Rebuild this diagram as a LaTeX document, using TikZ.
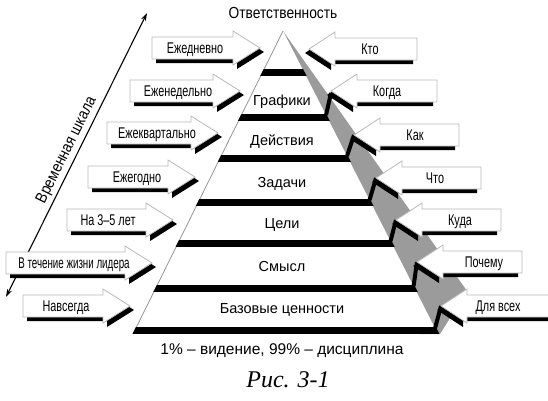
\documentclass[tikz,border=0pt]{standalone}
\usepackage{fontspec}
\setmainfont{Liberation Sans}
\newfontfamily\narrowfont[FakeStretch=0.70]{Liberation Sans}
\newfontfamily\narrowerfont[FakeStretch=0.63]{Liberation Sans}
\newfontfamily\titlefont[FakeStretch=0.86]{Liberation Sans}
\newfontfamily\capfont{Liberation Serif}
\usetikzlibrary{arrows.meta}
\definecolor{facegray}{RGB}{155,155,155}
\definecolor{edgegray}{RGB}{150,150,150}
\tikzset{
  arrowbody/.style={fill=white, draw=gray!55, line width=0.8pt, line join=miter},
  arrowshadow/.style={fill=black},
  lbl/.style={font=\narrowfont\fontsize{15.5}{17}\selectfont, inner sep=0pt, anchor=base},
  lvl/.style={font=\fontsize{14.5}{16}\selectfont, inner sep=0pt, anchor=base},
  stub/.style={line width=4pt, black},
  barfill/.style={fill=black},
}
% arrow pointing right: #1 name, #2 tail x, #3 tip x, #4 centre y, #5 text, #6 text x
\newcommand\ArrR[6]{%
  \coordinate (#1tip) at (#3,#4);
  \fill[arrowshadow, shift={(4,4)}] ({#2},{#4-11}) -- ({#3-27},{#4-11}) -- ({#3-27},{#4-17}) -- ({#3},{#4}) -- ({#3-27},{#4+17}) -- ({#3-27},{#4+11}) -- ({#2},{#4+11}) -- cycle;
  \draw[arrowbody] ({#2},{#4-11}) -- ({#3-27},{#4-11}) -- ({#3-27},{#4-17}) -- ({#3},{#4}) -- ({#3-27},{#4+17}) -- ({#3-27},{#4+11}) -- ({#2},{#4+11}) -- cycle;
  \node[lbl] (#1) at (#6,{#4+5.5}) {#5};
}
% arrow pointing left: #1 name, #2 tip x, #3 tail x, #4 centre y, #5 text, #6 text x
\newcommand\ArrL[6]{%
  \coordinate (#1tip) at (#2,#4);
  \fill[arrowshadow, shift={(-4,4)}] ({#3},{#4-11}) -- ({#2+26},{#4-11}) -- ({#2+26},{#4-17}) -- ({#2},{#4}) -- ({#2+26},{#4+17}) -- ({#2+26},{#4+11}) -- ({#3},{#4+11}) -- cycle;
  \draw[arrowbody] ({#3},{#4-11}) -- ({#2+26},{#4-11}) -- ({#2+26},{#4-17}) -- ({#2},{#4}) -- ({#2+26},{#4+17}) -- ({#2+26},{#4+11}) -- ({#3},{#4+11}) -- cycle;
  \node[lbl] (#1) at (#6,{#4+5.5}) {#5};
}
\begin{document}
\begin{tikzpicture}[x=1pt, y=-1pt]
\useasboundingbox (0,0) rectangle (548,400);
\clip (0,0) rectangle (548,400);
\fill[white] (0,0) rectangle (548,400);

% pyramid: shaded face, white front, bars
\fill[facegray] (283,31) -- (467,291) -- (440,334) -- (420,334) -- cycle;
\fill[white] (283,31) -- (133,334) -- (438,334) -- cycle;
\draw[edgegray, line width=0.8pt] (283,31) -- (133,334);
\begin{scope}
  \clip (283,30) -- (132,335) -- (440,335) -- cycle;
  \foreach \y in {72,117,158,202,243,288,330}
    \fill[barfill] (100,{\y-3.5}) rectangle (470,{\y+3.5});
\end{scope}
\foreach \y [count=\i] in {72,117,158,202,243,288,330}
  \coordinate (bar\i) at ({283+0.512*(\y-31)-1},{\y-2});

% time axis
\coordinate (axisbot) at (6,297);
\coordinate (axistop) at (147,13);
\draw[{Stealth[length=8pt,width=5pt]}-{Stealth[length=8pt,width=5pt]}, line width=1.1pt]
  (axisbot) -- (axistop)
  node[midway, above=3pt, sloped, inner sep=0pt, font=\titlefont\fontsize{16}{18}\selectfont] (axislabel) {Временная шкала};

% stubs from bar ends to right arrow tips
\draw[stub] (bar2) -- (331,93);
\draw[stub] (bar3) -- (354,135);
\draw[stub] (bar4) -- (376,178);
\draw[stub] (bar5) -- (396,220);
\draw[stub] (bar6) -- (417,262);
\draw[stub] (bar7) -- (441,306);

% left arrows
\ArrR{daily}{152}{260}{48}{Ежедневно}{195}
\ArrR{weekly}{130}{240}{91}{Еженедельно}{178}
\ArrR{quarterly}{107}{218}{133}{Ежеквартально}{157}
\ArrR{yearly}{88}{195}{177}{Ежегодно}{137}
\ArrR{years}{67}{173}{220}{На 3–5 лет}{108}
\ArrR{life}{6}{152}{263}{\narrowerfont В течение жизни лидера}{74}
\ArrR{forever}{23}{130}{306}{Навсегда}{66}

% right arrows
\ArrL{who}{309}{417}{49}{Кто}{370}
\ArrL{when}{331}{437}{91}{Когда}{387}
\ArrL{how}{354}{459}{135}{Как}{415}
\ArrL{what}{376}{481}{178}{Что}{435}
\ArrL{where}{396}{501}{220}{Куда}{460}
\ArrL{why}{417}{522}{262}{Почему}{484}
\ArrL{forall}{441}{560}{306}{Для всех}{498}

% level labels
\node[lvl] (l1) at (282,105) {Графики};
\node[lvl] (l2) at (282,145) {Действия};
\node[lvl] (l3) at (282,187) {Задачи};
\node[lvl] (l4) at (282,228) {Цели};
\node[lvl] (l5) at (282,271) {Смысл};
\node[lvl] (l6) at (282,313) {Базовые ценности};

% titles
\node[inner sep=0pt, anchor=base, font=\titlefont\fontsize{16}{18}\selectfont] (top) at (283,18) {Ответственность};
\node[inner sep=0pt, anchor=base, font=\fontsize{15.5}{18}\selectfont] (bottom) at (282,354) {1\% – видение, 99\% – дисциплина};
\node[inner sep=0pt, anchor=base, font=\capfont\itshape\fontsize{24}{28}\selectfont] (fig) at (288,387) {Рис. 3-1};
\end{tikzpicture}
\end{document}
